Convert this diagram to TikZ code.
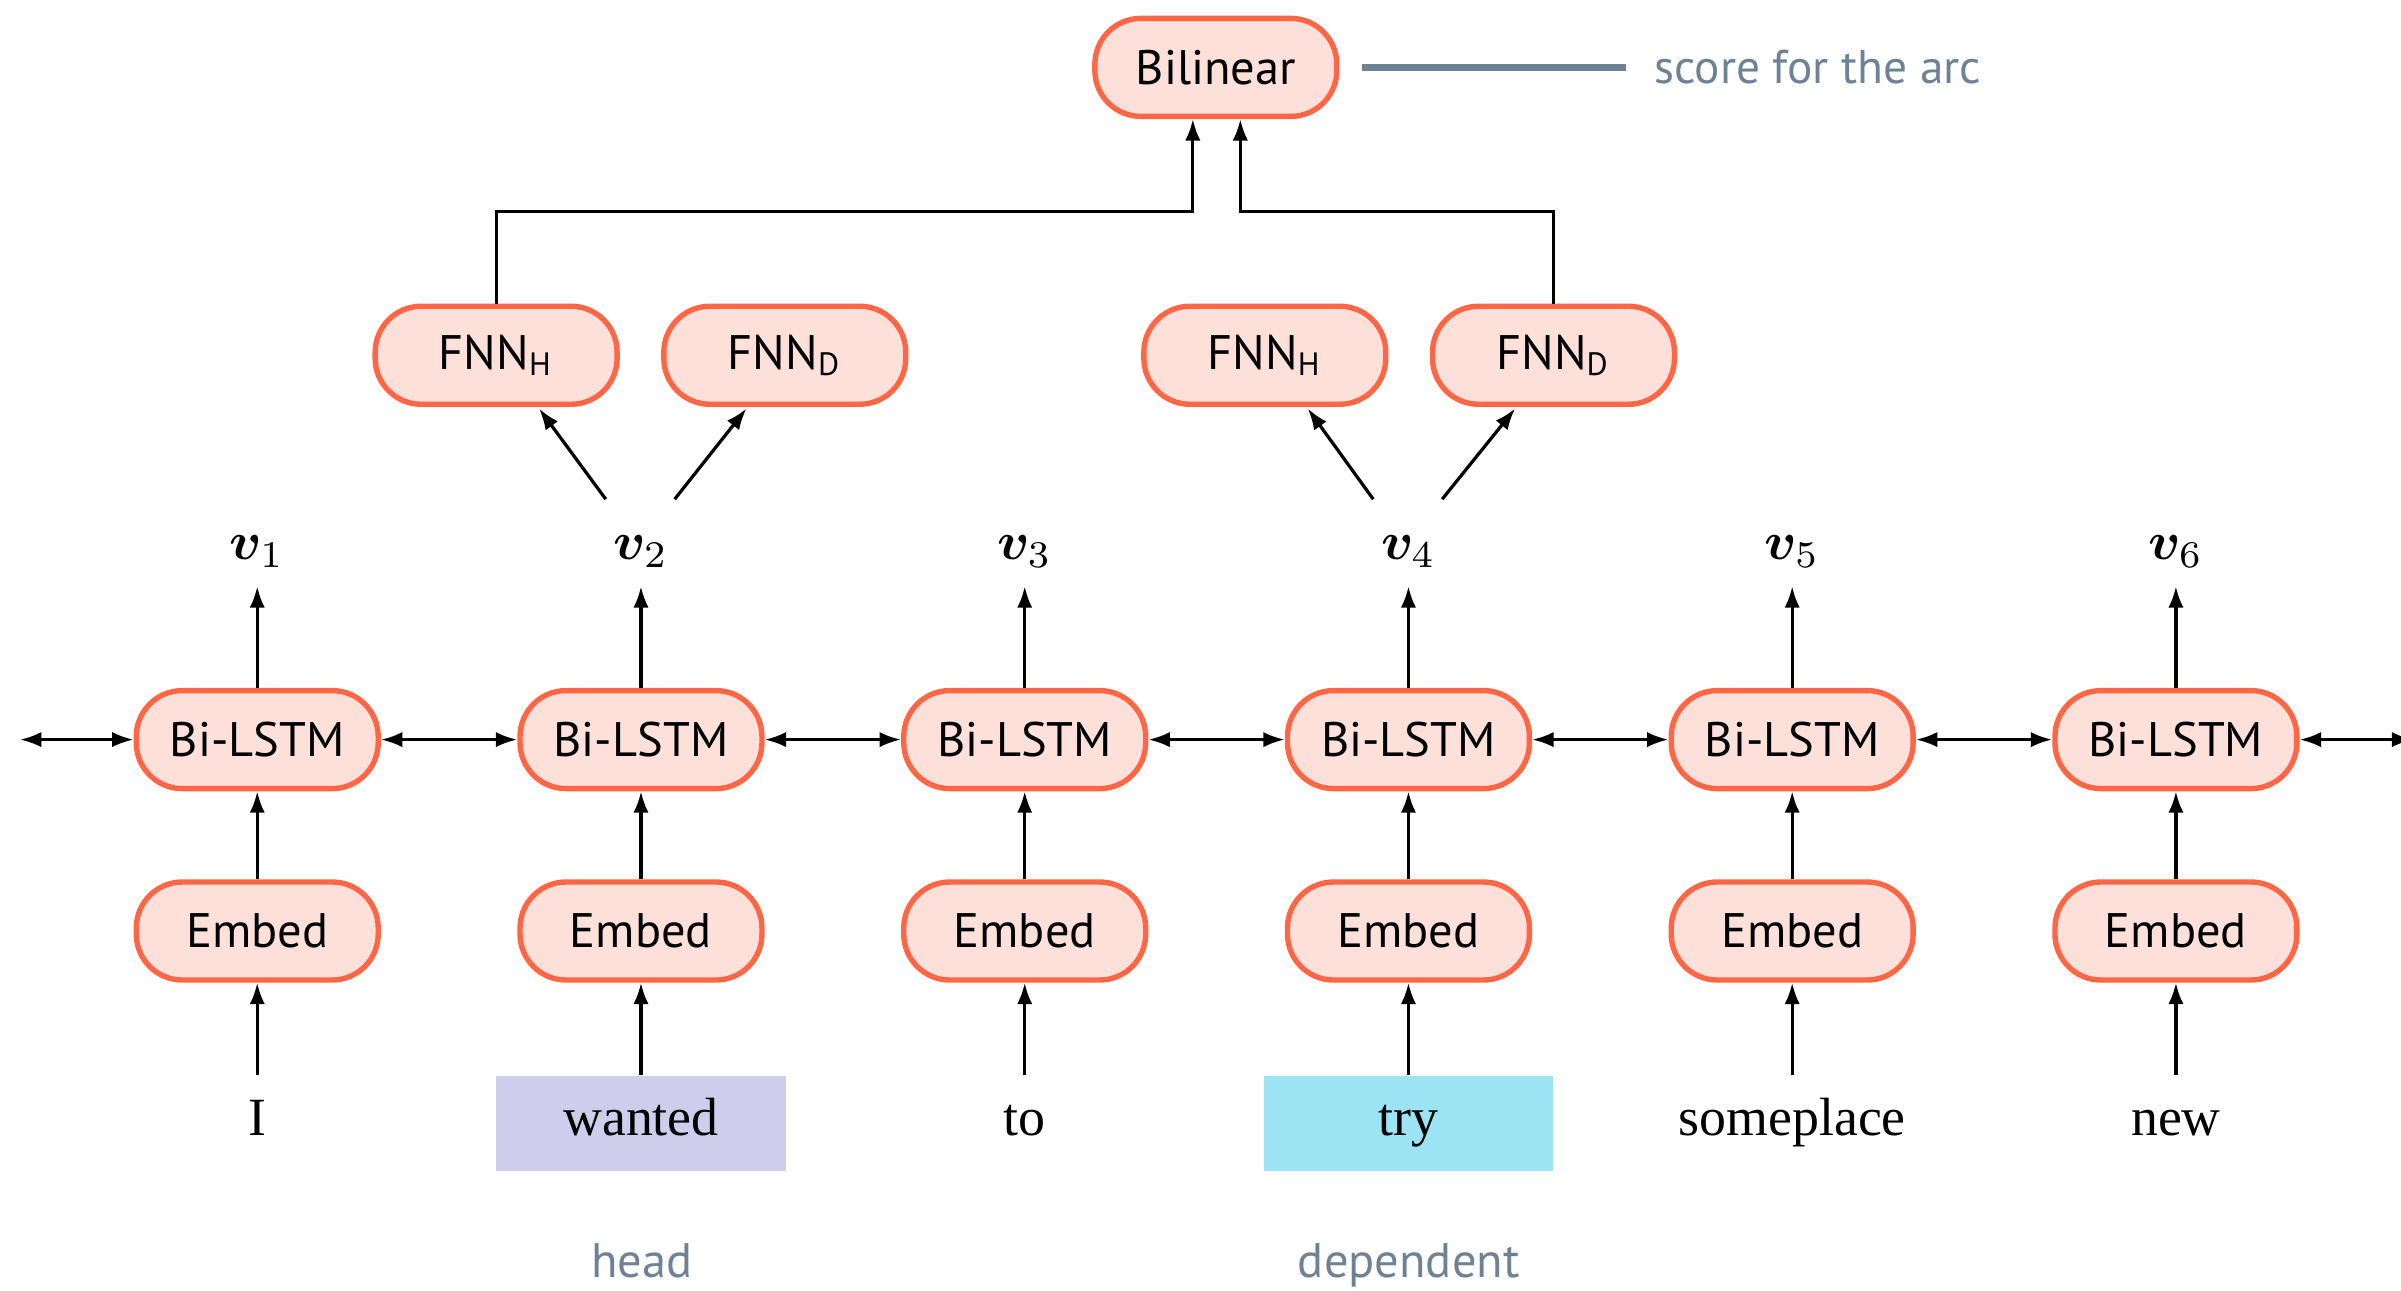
\documentclass[tikz,border=0pt]{standalone}
\usepackage{fontspec}
\setmainfont{Liberation Serif}
\newfontfamily\boxfont{PT Sans}
\usepackage{amsmath,bm}
\usepackage{tikz}
\usetikzlibrary{arrows.meta,calc,positioning}
\definecolor{boxred}{HTML}{FF6645}
\definecolor{boxfill}{HTML}{FDE0DA}
\definecolor{headfill}{HTML}{D0CCEC}
\definecolor{depfill}{HTML}{9CE3F3}
\definecolor{notegray}{HTML}{6E8296}

\begin{document}
\begin{tikzpicture}[block/.style={rectangle, rounded corners=0.3cm, draw=boxred, fill=boxfill, line width=1pt, minimum width=1.58cm, minimum height=0.64cm, inner sep=0pt, font=\boxfont\fontsize{9}{10}\selectfont},
    word/.style={rectangle, minimum width=1.89cm, minimum height=0.62cm, inner sep=0pt, text height=0.22cm, text depth=0.07cm, font=\fontsize{10}{12}\selectfont},
    note/.style={text=notegray, font=\boxfont\fontsize{9}{10}\selectfont},
    arr/.style={-{Latex[length=1.4mm,width=1mm]}, line width=0.6pt},
    barr/.style={{Latex[length=1.4mm,width=1mm]}-{Latex[length=1.4mm,width=1mm]}, line width=0.6pt}]

                \useasboundingbox (0,0) rectangle (15.68,-8.425);

                \foreach \i/ \w/ \f in {1/I/none, 2/wanted/headfill, 3/to/none, 4/try/depfill, 5/someplace/none, 6/new/none}{
                    \node[word, fill=\f] (w\i) at ({1.68+2.506*(\i-1)},-7.34) {\w};
                    \node[block] (e\i) at ({1.68+2.506*(\i-1)},-6.08) {Embed};
                    \node[block] (b\i) at ({1.68+2.506*(\i-1)},-4.83) {Bi-LSTM};
                    \node (v\i) at ({1.68+2.506*(\i-1)},-3.60) {$\bm{v}_{\i}$};
                    \draw[arr] (w\i) -- (e\i);
                    \draw[arr] (e\i) -- (b\i);
                    \draw[arr] (b\i) -- (v\i);
                }

                \foreach \a/ \b in {1/2,2/3,3/4,4/5,5/6}{
                    \draw[barr] (b\a) -- (b\b);
                }
                \coordinate (lend) at (0.13,-4.83);
                \coordinate (rend) at (15.76,-4.83);
                \draw[barr] (lend) -- (b1);
                \draw[barr] (b6) -- (rend);

                \node[note, anchor=base] (head) at (4.19,-8.34) {head};
                \node[note, anchor=base] (dep) at (9.20,-8.34) {dependent};

                \node[block] (hd1) at (3.24,-2.32) {FNN\textsubscript{H}};
                \node[block, right=0.27cm of hd1] (dp1) {FNN\textsubscript{D}};
                \node[block] (hd2) at (8.26,-2.32) {FNN\textsubscript{H}};
                \node[block, right=0.27cm of hd2] (dp2) {FNN\textsubscript{D}};

                \foreach \v/ \h/ \d in {v2/hd1/dp1, v4/hd2/dp2}{
                    \draw[arr] ($(\v)+(-0.23,0.34)$) -- ($(\h.south)+(0.28,-0.01)$);
                    \draw[arr] ($(\v)+(0.22,0.34)$) -- ($(\d.south)+(-0.25,-0.01)$);
                }

                \node[block] (bil) at (7.94,-0.44) {Bilinear};
                \coordinate (jl) at (7.79,-1.38);
                \coordinate (jr) at (8.10,-1.38);
                \draw[arr] (hd1.north) |- (jl) -- (jl |- bil.south);
                \draw[arr] (dp2.north) |- (jr) -- (jr |- bil.south);

                \node[note, anchor=west, font=\boxfont\fontsize{8.8}{10}\selectfont] (score) at (10.68,-0.44) {score for the arc};
                \draw[notegray, line width=1.2pt] ($(bil.east)+(0.15,0)$) -- ($(score.west)+(-0.06,0)$);

        \end{tikzpicture}
\end{document}
